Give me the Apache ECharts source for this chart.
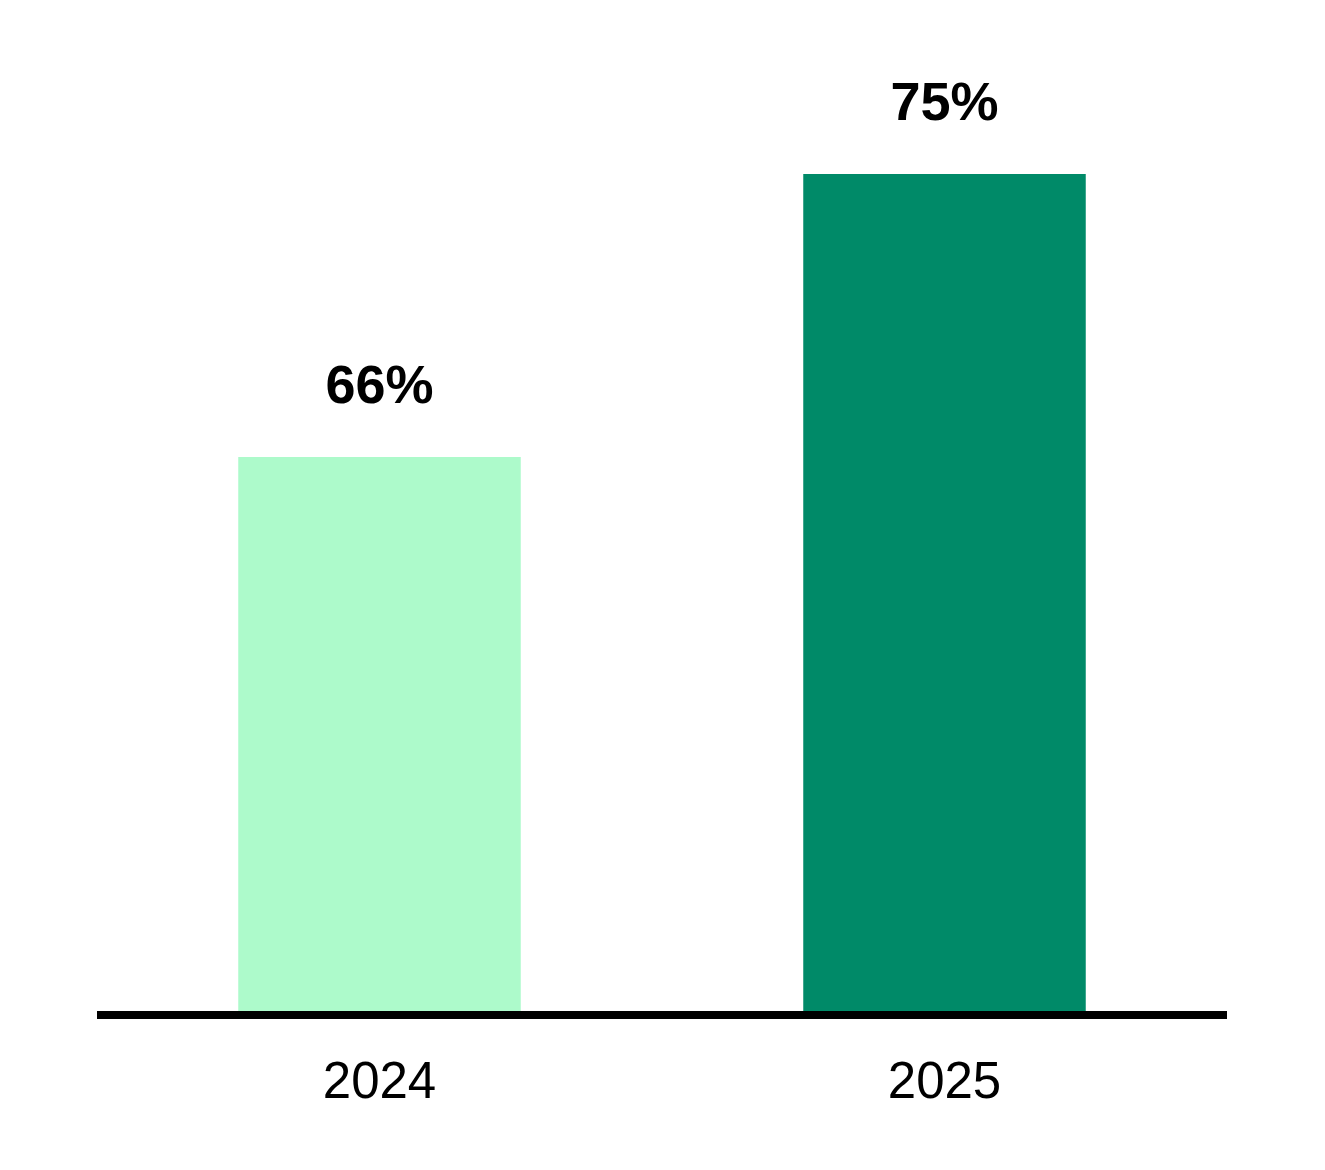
<!DOCTYPE html>
<html>
<head>
<meta charset="utf-8">
<script src="https://cdn.jsdelivr.net/npm/echarts@6/dist/echarts.min.js"></script>
<style>
html,body{margin:0;padding:0;background:#fff;}
#chart{width:1325px;height:1170px;}
</style>
</head>
<body>
<div id="chart"></div>
<script>
const categories = ['2024', '2025'];
const values = [66, 75];
const barColors = ['#ADFACB', '#008A68'];

const chart = echarts.init(document.getElementById('chart'), null, {renderer: 'canvas'});
chart.setOption({
  animation: false,
  backgroundColor: '#ffffff',
  grid: {left: 97, right: 98, top: 100, bottom: 155, containLabel: false},
  xAxis: {
    type: 'category',
    data: categories,
    z: 10,
    axisLine: {show: true, lineStyle: {color: '#000', width: 8, cap: 'butt'}},
    axisTick: {show: false},
    axisLabel: {color: '#000', fontSize: 51, fontFamily: 'Liberation Sans, Arial, sans-serif', margin: 43}
  },
  yAxis: {
    type: 'value',
    min: 48.25,
    max: 77.35,
    show: false,
    splitLine: {show: false}
  },
  series: [{
    type: 'bar',
    barWidth: '50%',
    data: values.map((v, i) => ({value: v, itemStyle: {color: barColors[i]}})),
    label: {
      show: true,
      position: 'top',
      distance: 42,
      formatter: p => p.value + '%',
      color: '#000',
      fontSize: 54,
      fontWeight: 'bold',
      fontFamily: 'Liberation Sans, Arial, sans-serif'
    }
  }]
});
</script>
</body>
</html>
